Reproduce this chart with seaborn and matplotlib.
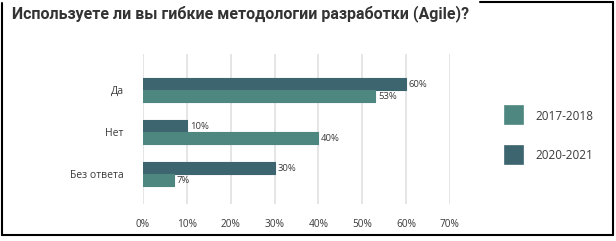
import numpy as np
import pandas as pd
import matplotlib
matplotlib.use("Agg")
import matplotlib.pyplot as plt
import seaborn as sns
from matplotlib.lines import Line2D

# data
answers = ["Да", "Нет", "Без ответа"]
years = ["2020-2021", "2017-2018"]
share_2020 = [60, 10, 30]
share_2017 = [53, 40, 7]
xticks = [0, 10, 20, 30, 40, 50, 60, 70]

dark = "#3d6570"
light = "#4d8780"
txt = "#3a3a3a"

sns.set_theme(style="white")
plt.rcParams['font.family'] = ['Open Sans', 'DejaVu Sans']

df = pd.DataFrame({
    "answer": answers * 2,
    "year": [years[0]] * 3 + [years[1]] * 3,
    "share": share_2020 + share_2017,
})

fig = plt.figure(figsize=(6.16, 2.41), dpi=100)
ax = fig.add_axes([143 / 616, 1 - 204 / 241, 307 / 616, 150 / 241])

sns.barplot(data=df, y="answer", x="share", hue="year", order=answers,
            hue_order=years, palette=[dark, light], orient="h",
            width=0.58, gap=0.05, ax=ax, saturation=1)

for cont in ax.containers:
    for b in cont:
        b.set_edgecolor(b.get_facecolor())
        b.set_linewidth(0.8)
        b.set_joinstyle("round")
    ax.bar_label(cont, labels=[f"{int(v)}%" for v in cont.datavalues],
                 padding=2, fontsize=6.8, color=txt)

ax.set_xlim(0, 70)
ax.set_ylim(2.71, -0.86)
ax.set_xticks(xticks)
ax.set_xticklabels([f"{t}%" for t in xticks], fontsize=7.3, color=txt)
ax.tick_params(axis="x", length=0, pad=11)
ax.tick_params(axis="y", length=0, pad=14, labelsize=7.5, labelcolor=txt)
ax.set_xlabel("")
ax.set_ylabel("")
ax.grid(axis="x", color="#e3e3e3", linewidth=1.3)
ax.set_axisbelow(True)
for s in ax.spines.values():
    s.set_visible(False)

# legend: 2017-2018 first
ax.get_legend().remove()
handles = [Line2D([], [], linestyle="none", marker="s", markersize=12.5,
                  markerfacecolor=c, markeredgecolor=c, markeredgewidth=1.2)
           for c in [light, dark]]
fig.legend(handles, ["2017-2018", "2020-2021"], loc="upper left",
           bbox_to_anchor=(492 / 616, 1 - 99 / 241), frameon=False,
           fontsize=8.5, labelspacing=2.25, handletextpad=0.8,
           labelcolor=txt)

fig.text(12 / 616, 1 - 14 / 241, "Используете ли вы гибкие методологии разработки (Agile)?",
         fontsize=11.5, fontweight="bold", color="#333333", va="center", ha="left",
         family=["Roboto", "DejaVu Sans"])

# outer frame
fl = dict(color="black", linewidth=1.5, transform=fig.transFigure)
fig.add_artist(Line2D([2.5 / 616, 2.5 / 616], [1 - 3 / 241, 1 - 235 / 241], **fl))
fig.add_artist(Line2D([2.5 / 616, 613 / 616], [1 - 235 / 241, 1 - 235 / 241], **fl))
fig.add_artist(Line2D([613 / 616, 613 / 616], [1 - 235 / 241, 1 - 2 / 241], **fl))
fig.add_artist(Line2D([480 / 616, 613 / 616], [1 - 2 / 241, 1 - 2 / 241], **fl))

fig.savefig("out.png", dpi=100)
